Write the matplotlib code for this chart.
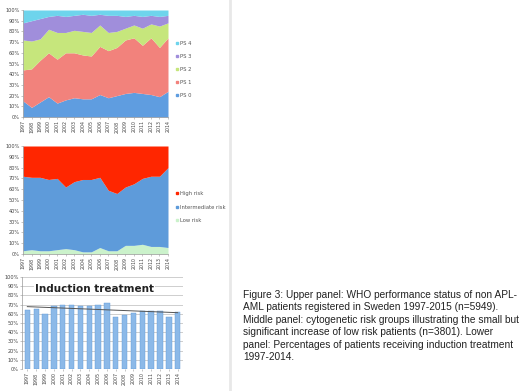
import matplotlib.pyplot as plt
import numpy as np
from matplotlib.lines import Line2D

years = [str(y) for y in range(1997, 2015)]

# WHO performance status, cumulative tops (%)
ps0 = [15, 9, 14, 19, 13, 16, 18, 17, 17, 21, 18, 20, 22, 23, 22, 21, 19, 24]
ps1_top = [44, 45, 53, 60, 54, 60, 60, 58, 57, 66, 62, 65, 72, 74, 67, 74, 65, 74]
ps2_top = [72, 71, 73, 82, 79, 79, 81, 80, 79, 86, 79, 80, 83, 86, 83, 87, 85, 88]
ps3_top = [88, 90, 92, 94, 95, 94, 95, 96, 95, 96, 95, 95, 94, 95, 94, 95, 94, 95]

# cytogenetic risk groups, cumulative tops (%)
low_risk = [3, 4, 3, 3, 4, 5, 4, 2, 2, 6, 3, 3, 8, 8, 9, 7, 7, 6]
inter_top = [72, 71, 71, 69, 70, 62, 67, 69, 69, 71, 59, 56, 62, 65, 70, 72, 72, 80]

# induction treatment (%)
induction = [64, 65, 60, 68, 70, 70, 68, 69, 70, 72, 57, 59, 61, 63, 63, 63, 57, 62]

caption = ("Figure 3: Upper panel: WHO performance status of non APL-\n"
           "AML patients registered in Sweden 1997-2015 (n=5949).\n"
           "Middle panel: cytogenetic risk groups illustrating the small but\n"
           "significant increase of low risk patients (n=3801). Lower\n"
           "panel: Percentages of patients receiving induction treatment\n"
           "1997-2014.")

W, H = 520, 391
fig = plt.figure(figsize=(W / 100, H / 100), dpi=100)
fig.patch.set_facecolor("white")


def px_axes(x0, y0, x1, y1):
    return fig.add_axes([x0 / W, 1 - y1 / H, (x1 - x0) / W, (y1 - y0) / H])


def style(ax, xlim):
    ax.set_ylim(0, 100)
    ax.set_xlim(*xlim)
    ax.set_yticks(range(0, 101, 10))
    ax.set_yticklabels([f"{v}%" for v in range(0, 101, 10)], fontsize=3.6, color="#444444")
    ax.set_xticks(range(len(years)))
    ax.set_xticklabels(years, rotation=90, fontsize=3.4, color="#444444")
    ax.tick_params(length=1.5, width=0.4, pad=1, colors="#999999", labelcolor="#444444")
    for s in ["top", "right"]:
        ax.spines[s].set_visible(False)
    for s in ["left", "bottom"]:
        ax.spines[s].set_color("#999999")
        ax.spines[s].set_linewidth(0.5)


x = np.arange(len(years))

# upper panel
ax1 = px_axes(23, 10, 168, 117)
tops = [np.zeros(len(years)), ps0, ps1_top, ps2_top, ps3_top, np.full(len(years), 100)]
ps_cols = ["#5F9DE0", "#F2827C", "#C6E67C", "#A08EDB", "#6ED4EC"]
ps_names = ["PS 0", "PS 1", "PS 2", "PS 3", "PS 4"]
for i in range(5):
    ax1.fill_between(x, tops[i], tops[i + 1], color=ps_cols[i], lw=0)
style(ax1, (0, len(years) - 1))
handles = [Line2D([], [], marker="s", ls="", color=c, markersize=2) for c in ps_cols]
ax1.legend(handles[::-1], ps_names[::-1], loc="center left", bbox_to_anchor=(1.03, 0.445),
           frameon=False, fontsize=3.8, handletextpad=0.1, labelspacing=1.55,
           handlelength=0.8, labelcolor="#555555", borderpad=0)

# middle panel
ax2 = px_axes(23, 146, 168, 254)
ax2.fill_between(x, 0, low_risk, color="#CBF2CB", lw=0)
ax2.fill_between(x, low_risk, inter_top, color="#5E9BDA", lw=0)
ax2.fill_between(x, inter_top, 100, color="#FF2600", lw=0)
style(ax2, (0, len(years) - 1))
risk_cols = ["#FF2600", "#5E9BDA", "#CBF2CB"]
risk_names = ["High risk", "Intermediate risk", "Low risk"]
handles = [Line2D([], [], marker="s", ls="", color=c, markersize=2) for c in risk_cols]
ax2.legend(handles, risk_names, loc="center left", bbox_to_anchor=(1.03, 0.435),
           frameon=False, fontsize=3.8, handletextpad=0.1, labelspacing=1.55,
           handlelength=0.8, labelcolor="#555555", borderpad=0)

# lower panel
ax3 = px_axes(22, 277, 183, 369)
ax3.set_axisbelow(True)
ax3.grid(axis="y", color="#BBBBBB", lw=0.5)
ax3.bar(x, induction, width=0.6, color="#8CB9E8", edgecolor="#5E98D6", lw=0.3)
coef = np.polyfit(x, induction, 1)
ax3.plot(x, np.polyval(coef, x), color="#555555", lw=0.7)
style(ax3, (-0.6, len(years) - 0.4))
ax3.spines["bottom"].set_visible(False)
ax3.text(0.08, 0.87, "Induction treatment", transform=ax3.transAxes, fontsize=7.5,
         fontweight="bold", color="#222222", ha="left", va="center",
         bbox=dict(facecolor="white", edgecolor="none", pad=0.5))

# separator line and caption
fig.add_artist(Line2D([230 / W, 230 / W], [0, 1], color="#E8E8E8", lw=2))
fig.text(243 / W, 1 - 290 / H, caption, fontsize=7.3, color="#222222",
         ha="left", va="top", linespacing=1.3, family="Liberation Sans")

fig.savefig("out.png", dpi=100, facecolor="white")
